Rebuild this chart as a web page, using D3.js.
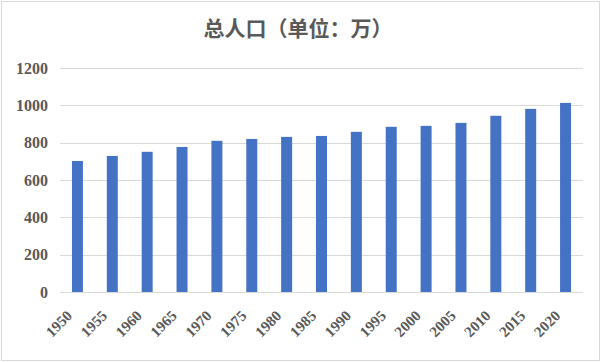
<!DOCTYPE html>
<html>
<head>
<meta charset="utf-8">
<script src="https://cdn.jsdelivr.net/npm/d3@7"></script>
<style>
  body { margin: 0; background: #fff; }
  svg { display: block; }
</style>
</head>
<body>
<svg id="chart" width="602" height="362"></svg>
<script>
const years = ['1950','1955','1960','1965','1970','1975','1980','1985','1990','1995','2000','2005','2010','2015','2020'];
const population = [702, 729, 751, 777, 810, 820, 831, 836, 858, 885, 890, 906, 944, 981, 1013];
const yTicks = [0, 200, 400, 600, 800, 1000, 1200];
const title = '总人口（单位：万）';

const margins = { top: 68, left: 60, right: 19, bottom: 70 };
const width = 602, height = 362;
const plotW = width - margins.left - margins.right;
const plotH = 292 - margins.top;
const labelFont = '"Liberation Serif", "Times New Roman", serif';

const svg = d3.select('#chart');

// outer frame
svg.append('rect')
  .attr('x', 1.5).attr('y', 1.5)
  .attr('width', 598).attr('height', 359)
  .attr('fill', 'white')
  .attr('stroke', '#d9d9d9')
  .attr('stroke-width', 1);

svg.append('text')
  .attr('x', 298).attr('y', 36)
  .attr('text-anchor', 'middle')
  .style('font-family', '"Noto Sans CJK SC", sans-serif')
  .style('font-weight', 'bold')
  .style('font-size', '21px')
  .style('fill', '#595959')
  .text(title);

const x = d3.scaleBand()
  .domain(years)
  .range([0, plotW])
  .paddingInner(0.685)
  .paddingOuter(0.3425);

const y = d3.scaleLinear()
  .domain([0, 1200])
  .range([plotH, 0]);

const g = svg.append('g')
  .attr('transform', 'translate(' + margins.left + ',' + margins.top + ')');

// gridlines
g.append('g')
  .selectAll('line')
  .data(yTicks)
  .enter().append('line')
  .attr('x1', 0).attr('x2', plotW)
  .attr('y1', d => Math.round(y(d)) + 0.5)
  .attr('y2', d => Math.round(y(d)) + 0.5)
  .attr('stroke', '#d9d9d9')
  .attr('stroke-width', 1);

g.selectAll('.bar')
  .data(years)
  .enter().append('rect')
  .attr('class', 'bar')
  .attr('x', d => x(d))
  .attr('width', x.bandwidth())
  .attr('y', (d, i) => y(population[i]))
  .attr('height', (d, i) => plotH - y(population[i]))
  .attr('fill', '#4472c4');

// y axis labels
const yAxis = d3.axisLeft(y).tickValues(yTicks).tickFormat(d3.format('d')).tickSize(0).tickPadding(12);
const ya = g.append('g').call(yAxis);
ya.select('.domain').remove();
ya.selectAll('text')
  .style('font-family', labelFont)
  .style('font-size', '16px')
  .style('font-weight', 'bold')
  .style('fill', '#595959');

// x axis labels, rotated -45
const xLabels = g.append('g').attr('class', 'x-labels');
xLabels.selectAll('g')
  .data(years)
  .enter().append('g')
  .attr('transform', d => 'translate(' + (x(d) + x.bandwidth() / 2 - 8) + ',' + (plotH + 21) + ') rotate(-45)')
  .append('text')
  .attr('text-anchor', 'end')
  .attr('dy', '0.35em')
  .style('font-family', labelFont)
  .style('font-size', '15px')
  .style('font-weight', 'bold')
  .style('fill', '#595959')
  .text(d => d);

// baseline
g.append('line')
  .attr('x1', 0).attr('x2', plotW)
  .attr('y1', plotH + 0.5).attr('y2', plotH + 0.5)
  .attr('stroke', '#d9d9d9');
</script>
</body>
</html>
